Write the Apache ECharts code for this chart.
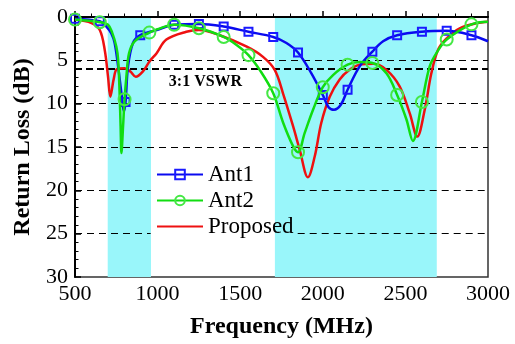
<!DOCTYPE html>
<html><head><meta charset="utf-8">
<script src="https://cdn.jsdelivr.net/npm/echarts@6/dist/echarts.min.js"></script>
<style>html,body{margin:0;padding:0;background:#fff}#c{width:515px;height:344px}</style>
</head><body><div id="c"></div>
<script>
// Data: [frequency MHz, return loss dB]
const ant1 = [[500,0.2],[650,0.5],[690,1.1],[720,1.9],[740,3.0],[761,5.7],[781,8.8],[796,10.9],[806,9.8],[821,5.7],[851,3.0],[895,2.1],[995,1.5],[1100,0.9],[1250,0.8],[1400,1.1],[1550,1.7],[1700,2.3],[1780,3.0],[1850,4.1],[1931,6.5],[2000,9.0],[2035,10.4],[2068,10.7],[2110,10.1],[2150,8.4],[2223,5.7],[2300,4.0],[2365,2.8],[2450,2.1],[2600,1.7],[2750,1.6],[2900,2.1],[3000,2.8]];
const ant1Markers = [500,650,806,895,1100,1250,1400,1550,1700,1850,2000,2150,2300,2450,2600,2750,2900];
const ant2 = [[500,0.3],[650,0.6],[700,0.9],[725,1.8],[750,3.4],[761,4.9],[770,8.8],[776,12.6],[781,15.7],[791,12.6],[800,9.5],[811,6.9],[827,4.2],[861,2.8],[950,1.8],[1000,1.4],[1100,0.9],[1250,1.3],[1400,2.3],[1476,3.2],[1550,4.4],[1625,6.3],[1700,8.8],[1760,12.2],[1820,14.9],[1850,15.6],[1890,13.4],[1941,10.7],[2000,8.1],[2062,6.7],[2150,5.5],[2225,5.2],[2300,5.3],[2385,6.5],[2450,9.0],[2506,11.8],[2545,14.3],[2600,9.8],[2647,5.7],[2690,4.1],[2750,2.6],[2900,0.85],[3000,0.55]];
const ant2Markers = [500,650,800,950,1100,1250,1400,1550,1700,1850,2000,2150,2300,2450,2600,2750,2900];
const proposed = [[500,0.3],[600,0.7],[650,1.5],[680,3.8],[700,6.9],[714,9.2],[734,7.2],[754,6.0],[800,5.9],[835,6.3],[868,6.9],[910,6.3],[952,5.1],[993,4.2],[1053,2.6],[1174,1.7],[1250,1.5],[1376,2.1],[1537,3.4],[1638,4.6],[1709,6.1],[1759,8.8],[1820,12.6],[1860,15.3],[1910,18.5],[1951,16.1],[1991,12.2],[2042,9.2],[2102,7.2],[2162,6.1],[2223,5.5],[2304,5.4],[2385,6.1],[2465,8.0],[2526,11.1],[2572,13.8],[2617,10.7],[2657,6.5],[2697,3.8],[2748,2.5],[2829,1.3],[2930,0.73],[3000,0.55]];
const bands = [[698,960],[1710,2690]];
const vswrLevel = 6;
const gridLevelsFull = [5,10,15];
const gridLevelsSplit = [20,25];
const legendGap = [958,1848];   // frequency span hidden behind the legend
const xTicks = [500,1000,1500,2000,2500,3000];
const yTicks = [0,5,10,15,20,25,30];

const FONT = "'Liberation Serif', 'Times New Roman', serif";
function withMarkers(pts, marks){
  return pts.map(p => marks.indexOf(p[0]) >= 0 ? {value:p} : {value:p, symbol:'none'});
}
const gridLines = [];
gridLevelsFull.forEach(y => gridLines.push([{coord:[xTicks[0],y]},{coord:[xTicks[xTicks.length-1],y]}]));
gridLevelsSplit.forEach(y => {
  gridLines.push([{coord:[xTicks[0],y]},{coord:[legendGap[0],y]}]);
  gridLines.push([{coord:[legendGap[1],y]},{coord:[xTicks[xTicks.length-1],y]}]);
});
gridLines.push([{coord:[xTicks[0],vswrLevel], lineStyle:{width:2, type:[7,4]}},{coord:[xTicks[xTicks.length-1],vswrLevel]}]);

const chart = echarts.init(document.getElementById('c'), null, {renderer:'canvas'});
chart.setOption({
  animation:false,
  backgroundColor:'#fff',
  textStyle:{fontFamily:FONT},
  grid:{left:75, right:27, top:17, bottom:66, show:true, borderColor:'#333', borderWidth:1.5, backgroundColor:'transparent'},
  xAxis:{type:'value', min:xTicks[0], max:xTicks[xTicks.length-1], interval:500, z:1.5,
    name:'Frequency (MHz)', nameLocation:'middle', nameGap:38,
    nameTextStyle:{fontFamily:FONT, fontSize:24, fontWeight:'bold', color:'#000'},
    axisLine:{lineStyle:{color:'#000', width:2}},
    axisTick:{inside:true, length:6, lineStyle:{color:'#000', width:1.5}},
    minorTick:{show:true, splitNumber:5, length:3.5, lineStyle:{color:'#000', width:1}},
    axisLabel:{fontFamily:FONT, fontSize:22, color:'#000', margin:6, formatter:v=>String(v)},
    splitLine:{show:false}},
  yAxis:{type:'value', inverse:true, min:yTicks[0], max:yTicks[yTicks.length-1], interval:5, z:1.5,
    name:'Return Loss (dB)', nameLocation:'middle', nameGap:38,
    nameTextStyle:{fontFamily:FONT, fontSize:24, fontWeight:'bold', color:'#000'},
    axisLine:{lineStyle:{color:'#000', width:2}},
    axisTick:{inside:true, length:6, lineStyle:{color:'#000', width:1.5}},
    minorTick:{show:true, splitNumber:5, length:3.5, lineStyle:{color:'#000', width:1}},
    axisLabel:{fontFamily:FONT, fontSize:22, color:'#000', margin:7, formatter:v=>String(v)},
    splitLine:{show:false}},
  legend:{orient:'vertical', left:151, top:160, padding:[3,4,6,5], itemGap:3,
    itemWidth:46, itemHeight:12, textStyle:{fontFamily:FONT, fontSize:23, color:'#000'},
    data:['Ant1','Ant2','Proposed']},
  series:[
    {name:'bands', type:'line', data:[], silent:true, z:1,
      markArea:{silent:true, z:1, itemStyle:{color:'#99f6fa'}, data:bands.map(b=>[{xAxis:b[0]},{xAxis:b[1]}])},
      markLine:{silent:true, z:1.6, symbol:'none', label:{show:false}, lineStyle:{color:'#000', width:1, type:[7,5]}, data:gridLines},
      markPoint:{silent:true, z:1.7, symbol:'circle', symbolSize:0, data:[{coord:[1290,7.5]}],
        label:{show:true, position:'inside', formatter:'3:1 VSWR', fontFamily:FONT, fontSize:16, fontWeight:'bold', color:'#000'}}},
    {name:'Ant1', type:'line', smooth:0.35, data:withMarkers(ant1, ant1Markers), z:3,
      symbol:'rect', symbolSize:8, lineStyle:{color:'#0a0aef', width:2.5},
      itemStyle:{color:'rgba(0,0,0,0)', borderColor:'#1a1aff', borderWidth:2}},
    {name:'Ant2', type:'line', smooth:0.35, data:withMarkers(ant2, ant2Markers), z:4,
      symbol:'circle', symbolSize:12, lineStyle:{color:'#11dd11', width:2.5},
      itemStyle:{color:'rgba(0,0,0,0)', borderColor:'#44e844', borderWidth:2}},
    {name:'Proposed', type:'line', smooth:0.35, data:proposed, z:2, symbol:'none',
      lineStyle:{color:'#ee1111', width:2.5}, itemStyle:{color:'rgba(0,0,0,0)'}}
  ]
});
</script></body></html>
